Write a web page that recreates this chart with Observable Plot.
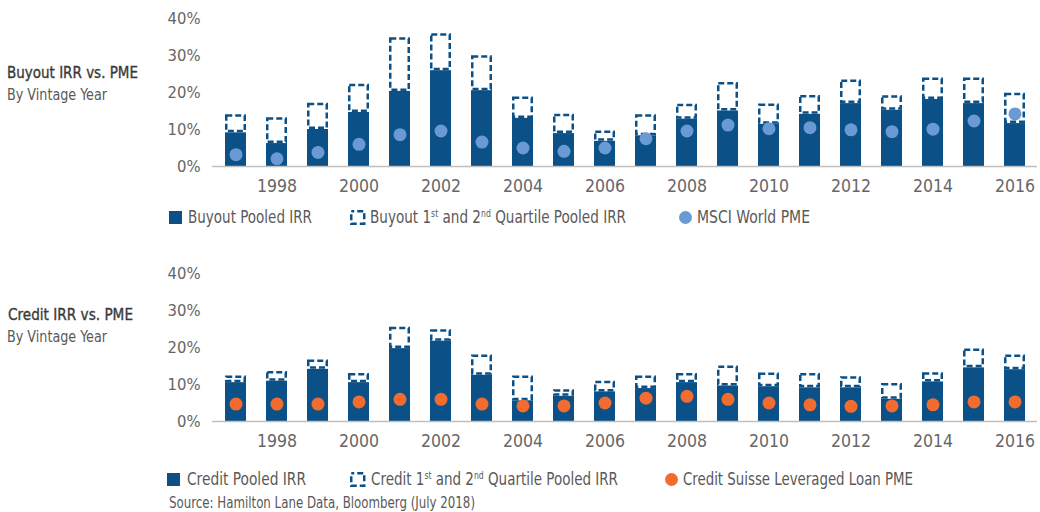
<!DOCTYPE html>
<html>
<head>
<meta charset="utf-8">
<script src="https://cdn.jsdelivr.net/npm/d3@7"></script>
<script src="https://cdn.jsdelivr.net/npm/@observablehq/plot@0.6"></script>
<style>
  html, body { margin: 0; padding: 0; background: #fff; }
  #root { position: relative; width: 1040px; height: 512px; overflow: hidden;
    font-family: "Liberation Sans Narrow", "DejaVu Sans Condensed", "Arial Narrow", sans-serif; font-stretch: condensed; }
  .abs { position: absolute; white-space: nowrap; }
  .title { font-size: 16.5px; color: #3a3a3a; -webkit-text-stroke: 0.35px #3a3a3a; }
  .sub { font-size: 16px; color: #595959; }
  .leg { font-size: 17.5px; color: #595959; line-height: 20px; }
  .leg sup { font-size: 10px; vertical-align: 6px; line-height: 0; }
  .src { font-size: 15px; color: #595959; }
  .chart { position: absolute; left: 0; }
</style>
</head>
<body>
<div id="root"></div>
<script>
const years = [1997,1998,1999,2000,2001,2002,2003,2004,2005,2006,2007,2008,2009,2010,2011,2012,2013,2014,2015,2016];
const tickYears = [1998,2000,2002,2004,2006,2008,2010,2012,2014,2016];
const yTicks = [0,10,20,30,40];

const buyoutPooled   = [9.1,6.2,10.0,14.6,20.3,25.9,20.5,13.0,8.9,6.8,8.3,12.8,15.0,11.4,14.1,17.0,15.2,18.1,17.0,11.6];
const buyoutQuartile = [14.0,13.2,17.1,22.2,34.8,35.9,29.9,18.8,14.1,9.6,14.0,16.8,22.7,16.9,19.2,23.4,19.1,23.9,23.9,19.8];
const msciPME        = [3.2,2.1,3.8,6.0,8.6,9.6,6.6,5.0,4.1,5.0,7.5,9.6,11.2,10.2,10.5,9.9,9.4,10.1,12.3,14.2];

const creditPooled   = [10.5,10.9,14.1,10.5,19.7,21.7,12.5,5.6,6.8,8.0,8.9,10.5,9.6,9.4,9.1,9.1,6.0,10.7,14.5,14.0];
const creditQuartile = [12.3,13.5,16.6,13.0,25.5,24.8,18.0,12.3,8.6,10.9,12.3,13.0,15.0,13.1,13.0,12.1,10.3,13.2,19.6,18.0];
const csPME          = [4.7,4.7,4.7,5.3,6.0,6.0,4.7,4.2,4.2,5.0,6.3,6.8,6.0,5.0,4.5,4.1,4.2,4.5,5.3,5.3];

const BLUE = "#0B5087";
const LIGHT = "#6A9AD3";
const ORANGE = "#F26C30";
const FONT = '"Liberation Sans Narrow", "DejaVu Sans Condensed", "Arial Narrow", sans-serif';

function rows(p, q, m) {
  return years.map((y, i) => ({year: y, pooled: p[i], quartile: q[i], pme: m[i]}));
}

function makeChart(data, dotColor) {
  return Plot.plot({
    width: 1040, height: 200,
    marginLeft: 212, marginRight: 3, marginTop: 18, marginBottom: 34,
    style: {fontFamily: FONT, fontSize: "17.5px", color: "#666", background: "transparent", fontStretch: "condensed"},
    x: {type: "band", domain: years, paddingInner: 0.5, paddingOuter: 0.25},
    y: {domain: [0, 40]},
    marks: [
      Plot.barY(data, {x: "year", y1: "pooled", y2: "quartile", fill: "white", stroke: BLUE, strokeWidth: 2.5, strokeDasharray: "6,3", inset: 1.25}),
      Plot.barY(data, {x: "year", y1: 0, y2: "pooled", fill: BLUE}),
      Plot.ruleY([0], {stroke: "#BFBFBF", strokeWidth: 1.5}),
      Plot.dot(data, {x: "year", y: "pme", r: 6.5, fill: dotColor, stroke: "none"}),
      Plot.axisX(tickYears, {tickSize: 0, tickPadding: 13, label: null, tickFormat: d => String(d)}),
      Plot.axisY(yTicks, {tickSize: 0, tickPadding: 12, label: null, fontSize: 16.5, tickFormat: d => d + "%"})
    ]
  });
}

const root = document.getElementById("root");

function addDiv(cls, left, top, html, fitWidth) {
  const d = document.createElement("div");
  d.className = "abs " + cls;
  d.style.left = left + "px";
  d.style.top = top + "px";
  d.innerHTML = html;
  root.appendChild(d);
  if (fitWidth) {
    const w = d.getBoundingClientRect().width;
    if (w > 0) {
      d.style.transformOrigin = "0 50%";
      d.style.transform = `scaleX(${fitWidth / w})`;
    }
  }
  return d;
}

function swatchSolid(left, cy) {
  const d = addDiv("", left, cy - 6.5, "");
  d.style.width = "13px"; d.style.height = "13px"; d.style.background = BLUE;
}
function swatchDashed(left, cy) {
  addDiv("", left, cy - 7.5,
    `<svg width="16" height="15"><rect x="1.25" y="1.25" width="13" height="12.5" fill="white" stroke="${BLUE}" stroke-width="2.5" stroke-dasharray="6,3" stroke-dashoffset="3"/></svg>`);
}
function swatchDot(cx, cy, color) {
  const d = addDiv("", cx - 6.5, cy - 6.5, "");
  d.style.width = "13px"; d.style.height = "13px"; d.style.borderRadius = "50%"; d.style.background = color;
}

// Top chart
const c1 = makeChart(rows(buyoutPooled, buyoutQuartile, msciPME), LIGHT);
c1.classList.add("chart"); c1.style.top = "0px";
root.appendChild(c1);

// Bottom chart
const c2 = makeChart(rows(creditPooled, creditQuartile, csPME), ORANGE);
c2.classList.add("chart"); c2.style.top = "255px";
root.appendChild(c2);

// Side titles
addDiv("title", 7, 63, "Buyout IRR vs. PME", 131);
addDiv("sub", 7, 85, "By Vintage Year", 100);
addDiv("title", 8, 305, "Credit IRR vs. PME", 125);
addDiv("sub", 7, 327, "By Vintage Year", 100);

// Top legend
const ly1 = 217;
swatchSolid(169, ly1);
addDiv("leg", 188, ly1 - 10, "Buyout Pooled IRR", 124);
swatchDashed(350, ly1);
addDiv("leg", 370, ly1 - 10, "Buyout 1<sup>st</sup> and 2<sup>nd</sup> Quartile Pooled IRR", 256);
swatchDot(685, ly1, LIGHT);
addDiv("leg", 697, ly1 - 10, "MSCI World PME", 113);

// Bottom legend
const ly2 = 479;
swatchSolid(167, ly2);
addDiv("leg", 187, ly2 - 10, "Credit Pooled IRR", 119);
swatchDashed(350, ly2);
addDiv("leg", 371, ly2 - 10, "Credit 1<sup>st</sup> and 2<sup>nd</sup> Quartile Pooled IRR", 247);
swatchDot(671.5, ly2, ORANGE);
addDiv("leg", 683, ly2 - 10, "Credit Suisse Leveraged Loan PME", 230);

// Source
addDiv("src", 169, 494, "Source: Hamilton Lane Data, Bloomberg (July 2018)", 306);
</script>
</body>
</html>
